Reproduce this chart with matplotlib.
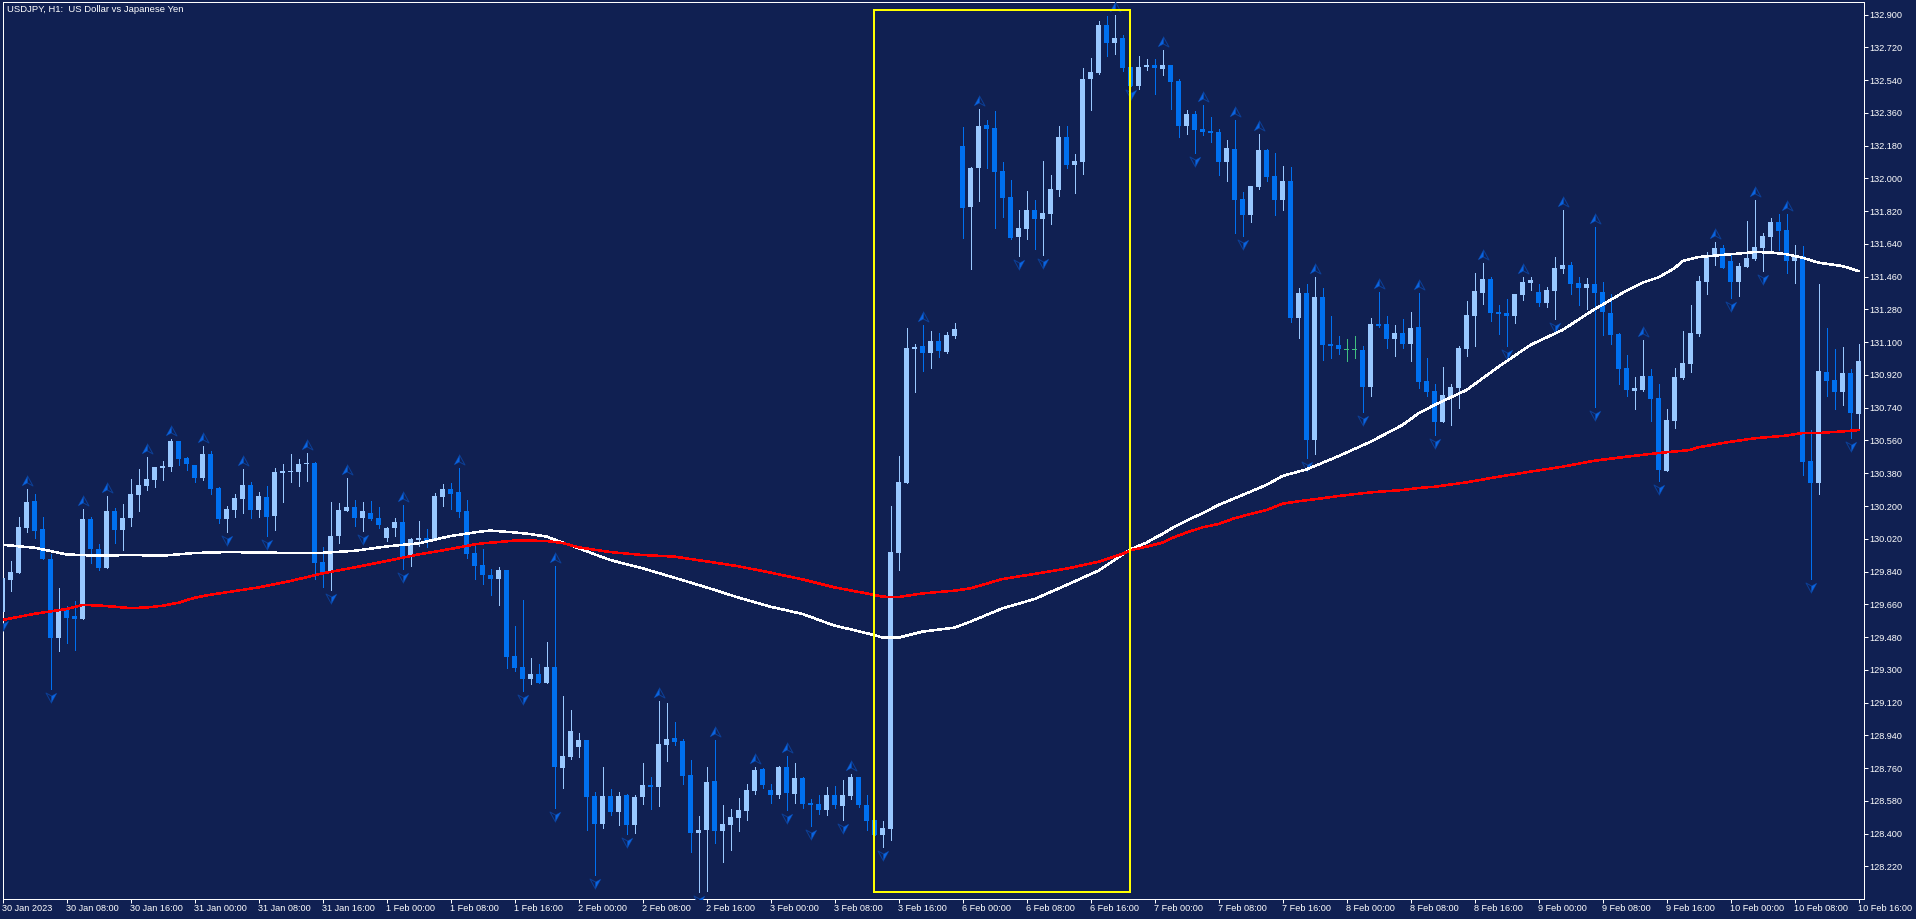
import numpy as np
import matplotlib
matplotlib.use("Agg")
import matplotlib.pyplot as plt
from matplotlib.path import Path
from matplotlib.patches import Rectangle

plt.rcParams['font.family'] = ['Liberation Sans', 'DejaVu Sans']

# hourly candles, USDJPY H1
opens = [
    129.617,129.793,129.832,130.079,130.227,130.073,129.909,129.475,129.634,129.596,
    129.579,130.128,129.964,129.859,130.172,130.068,130.134,130.260,130.310,130.343,
    130.408,130.414,130.557,130.463,130.425,130.354,130.485,130.299,130.128,130.178,
    130.238,130.315,130.178,130.249,130.145,130.381,130.387,130.387,130.430,130.436,
    129.892,129.837,130.035,130.172,130.194,130.134,130.161,130.134,130.024,130.079,
    130.112,129.920,130.013,130.024,130.013,130.249,130.293,130.277,130.172,129.942,
    129.876,129.821,129.799,129.848,129.376,129.316,129.250,129.277,129.228,129.316,
    128.761,128.821,128.876,128.915,128.607,128.453,128.607,128.519,128.613,128.448,
    128.602,128.667,128.657,128.887,128.926,128.909,128.722,128.404,128.420,128.689,
    128.415,128.448,128.486,128.525,128.635,128.755,128.640,128.613,128.766,128.618,
    128.706,128.569,128.563,128.530,128.613,128.552,128.607,128.711,128.558,128.475,
    128.393,128.426,129.942,130.326,131.062,131.079,131.040,131.106,131.046,131.134,
    132.178,131.842,132.057,132.293,132.276,132.040,131.897,131.678,131.722,131.826,
    131.777,131.804,131.936,132.227,132.073,132.090,132.545,132.578,132.842,132.743,
    132.771,132.611,132.507,132.611,132.622,132.600,132.622,132.534,132.287,132.353,
    132.270,132.260,132.254,132.090,132.161,131.886,131.798,131.952,132.155,132.012,
    131.881,131.985,131.232,131.370,130.562,131.348,131.090,131.084,131.055,131.055,
    131.057,130.853,131.200,131.200,131.117,131.150,131.090,131.183,130.887,130.832,
    130.661,130.799,130.848,131.062,131.244,131.370,131.447,131.265,131.260,131.244,
    131.359,131.425,131.375,131.315,131.381,131.502,131.524,131.425,131.398,131.420,
    131.375,131.260,131.145,130.958,130.832,130.837,130.914,130.793,130.392,130.667,
    130.903,130.980,131.145,131.430,131.568,131.617,131.546,131.430,131.513,131.557,
    131.617,131.678,131.760,131.716,131.546,131.573,130.447,130.326,130.936,130.892,
    130.826,130.931,130.705]
highs = [
    129.830,129.896,130.139,130.293,130.266,130.139,129.936,129.749,129.650,129.678,
    130.183,130.139,129.991,130.255,130.189,130.211,130.348,130.403,130.469,130.414,
    130.447,130.568,130.557,130.469,130.425,130.529,130.502,130.304,130.200,130.266,
    130.403,130.332,130.277,130.310,130.408,130.430,130.485,130.458,130.491,130.441,
    129.975,130.222,130.216,130.354,130.233,130.222,130.227,130.194,130.084,130.134,
    130.205,130.024,130.117,130.073,130.271,130.321,130.326,130.408,130.233,129.980,
    129.964,129.854,129.865,129.848,129.541,129.684,129.365,129.332,129.453,129.870,
    129.156,129.079,128.953,128.915,128.629,128.766,128.646,128.629,128.618,128.613,
    128.788,128.711,129.129,129.118,129.014,128.920,128.805,128.497,128.766,128.915,
    128.558,128.536,128.596,128.673,128.766,128.761,128.673,128.772,128.827,128.788,
    128.711,128.591,128.613,128.657,128.662,128.695,128.728,128.711,128.613,128.475,
    128.470,130.200,130.475,131.178,131.090,131.194,131.161,131.150,131.156,131.205,
    132.282,132.062,132.381,132.320,132.370,132.090,131.991,131.826,131.930,131.881,
    132.095,132.018,132.287,132.287,132.134,132.606,132.661,132.864,132.891,132.897,
    132.787,132.611,132.672,132.655,132.655,132.705,132.622,132.546,132.375,132.370,
    132.403,132.337,132.270,132.210,132.320,131.925,131.958,132.243,132.161,132.139,
    132.068,132.062,131.397,131.419,131.458,131.397,131.243,131.134,131.117,131.134,
    131.079,131.232,131.375,131.243,131.194,131.227,131.265,131.370,131.013,130.870,
    130.964,130.870,131.079,131.326,131.480,131.535,131.458,131.304,131.337,131.364,
    131.458,131.458,131.420,131.403,131.568,131.826,131.540,131.458,131.452,131.732,
    131.430,131.364,131.150,131.029,130.908,131.112,130.953,130.870,130.733,130.958,
    131.161,131.304,131.463,131.595,131.650,131.634,131.579,131.535,131.765,131.881,
    131.699,131.782,131.804,131.804,131.634,131.628,130.617,131.420,131.178,131.062,
    131.073,130.953,131.090]
lows = [
    129.592,129.733,129.832,130.057,130.024,129.909,129.195,129.403,129.447,129.409,
    129.579,129.887,129.848,129.859,129.997,129.958,130.090,130.172,130.288,130.304,
    130.343,130.392,130.425,130.397,130.332,130.343,130.266,130.106,130.057,130.139,
    130.161,130.134,130.139,130.035,130.068,130.222,130.332,130.310,130.337,129.799,
    129.755,129.738,129.997,130.172,130.090,130.062,130.123,130.079,130.007,130.035,
    129.854,129.870,129.980,129.975,130.013,130.200,130.183,130.139,129.914,129.799,
    129.772,129.711,129.656,129.310,129.294,129.184,129.222,129.228,129.228,128.541,
    128.651,128.810,128.821,128.420,128.173,128.431,128.503,128.448,128.398,128.404,
    128.563,128.536,128.552,128.799,128.887,128.673,128.299,128.080,128.085,128.349,
    128.245,128.310,128.415,128.475,128.618,128.651,128.569,128.596,128.530,128.569,
    128.541,128.442,128.508,128.503,128.541,128.475,128.591,128.547,128.420,128.393,
    128.327,128.365,129.848,130.326,130.826,130.942,130.958,131.018,131.040,131.123,
    131.672,131.502,131.875,132.057,131.727,131.788,131.667,131.573,131.667,131.612,
    131.579,131.749,131.903,132.057,131.919,132.024,132.375,132.573,132.672,132.683,
    132.589,132.507,132.490,132.595,132.463,132.567,132.381,132.227,132.243,132.139,
    132.238,132.199,132.018,131.985,131.700,131.683,131.760,131.941,131.985,131.798,
    131.826,131.211,131.123,130.463,130.485,131.002,131.013,131.035,130.996,131.013,
    130.716,130.804,131.183,131.068,131.024,131.068,130.996,130.848,130.804,130.590,
    130.661,130.645,130.738,131.024,131.079,131.310,131.216,131.145,131.079,131.205,
    131.332,131.386,131.299,131.293,131.227,131.480,131.364,131.304,131.282,130.744,
    131.139,131.090,130.870,130.804,130.733,130.832,130.667,130.337,130.392,130.628,
    130.898,130.936,131.134,131.364,131.524,131.507,131.343,131.354,131.513,131.551,
    131.491,131.595,131.606,131.480,131.425,130.370,129.799,130.266,130.804,130.733,
    130.755,130.574,130.617]
closes = [
    129.804,129.837,130.084,130.222,130.062,129.909,129.475,129.634,129.585,129.579,
    130.128,129.964,129.859,130.172,130.068,130.134,130.266,130.315,130.348,130.414,
    130.419,130.557,130.458,130.430,130.354,130.485,130.293,130.128,130.183,130.244,
    130.315,130.178,130.255,130.139,130.387,130.392,130.392,130.430,130.436,129.887,
    129.837,130.035,130.178,130.194,130.134,130.172,130.128,130.095,130.079,130.112,
    129.920,130.018,130.024,130.007,130.255,130.293,130.266,130.167,129.936,129.870,
    129.821,129.799,129.848,129.371,129.310,129.250,129.277,129.228,129.316,128.766,
    128.827,128.964,128.915,128.602,128.453,128.607,128.519,128.607,128.448,128.602,
    128.667,128.657,128.893,128.920,128.904,128.717,128.404,128.420,128.684,128.415,
    128.453,128.492,128.530,128.640,128.750,128.667,128.613,128.766,128.624,128.706,
    128.563,128.558,128.530,128.613,128.558,128.613,128.711,128.558,128.470,128.393,
    128.431,129.947,130.332,131.068,131.073,131.040,131.106,131.051,131.139,131.172,
    131.837,132.057,132.287,132.271,132.035,131.892,131.672,131.727,131.826,131.777,
    131.809,131.941,132.227,132.073,132.095,132.545,132.584,132.842,132.743,132.771,
    132.606,132.507,132.611,132.622,132.606,132.622,132.529,132.287,132.353,132.265,
    132.254,132.249,132.090,132.166,131.881,131.798,131.958,132.155,132.007,131.881,
    131.985,131.232,131.370,130.562,131.348,131.084,131.079,131.062,131.055,131.055,
    130.853,131.200,131.189,131.117,131.150,131.090,131.178,130.881,130.826,130.661,
    130.810,130.854,131.068,131.249,131.381,131.447,131.260,131.255,131.244,131.364,
    131.430,131.441,131.315,131.386,131.507,131.524,131.420,131.398,131.420,131.370,
    131.265,131.139,130.953,130.837,130.848,130.914,130.788,130.398,130.672,130.908,
    130.985,131.150,131.436,131.568,131.617,131.507,131.430,131.518,131.562,131.623,
    131.683,131.760,131.710,131.546,131.573,130.442,130.326,130.941,130.887,130.826,
    130.931,130.711,130.996]

# moving averages, read at these bars
white_bars = [0,4,8,12,16,20,24,28,32,36,40,44,48,52,56,59,60,61,64,66,68,70,72,74,76,80,84,88,92,96,
              100,104,106,109,110,112,115,119,121,125,129,133,137,141,143,144,145,146,148,150,152,154,
              156,158,160,162,163,167,171,175,177,179,183,187,191,195,199,203,205,207,209,210,212,216,
              219,221,223,225,227,230,232]
white_ma = [129.987,129.971,129.934,129.927,129.931,129.927,129.942,129.947,129.945,129.942,129.943,129.954,
            129.978,129.995,130.035,130.055,130.061,130.065,130.055,130.046,130.032,129.999,129.969,129.935,
            129.903,129.858,129.806,129.753,129.697,129.647,129.607,129.543,129.523,129.491,129.477,129.477,
            129.510,129.532,129.565,129.638,129.689,129.766,129.845,129.962,129.999,130.024,130.046,130.074,
            130.120,130.160,130.206,130.242,130.279,130.316,130.365,130.389,130.401,130.474,130.553,130.645,
            130.709,130.755,130.837,130.965,131.085,131.167,131.281,131.383,131.427,131.456,131.506,131.546,
            131.568,131.583,131.595,131.593,131.583,131.564,131.537,131.518,131.491]
red_bars = [0,4,8,10,12,14,16,18,20,22,24,26,28,32,36,40,44,48,52,56,59,60,62,64,66,68,70,72,74,76,80,84,
            88,92,96,100,104,108,110,112,115,119,121,125,129,133,137,140,141,143,145,146,148,150,152,154,
            156,158,160,162,164,167,171,175,177,179,183,187,191,195,199,203,207,211,212,216,219,223,225,
            227,230,232]
red_ma = [129.574,129.608,129.634,129.656,129.654,129.647,129.639,129.643,129.652,129.669,129.696,129.713,
          129.726,129.753,129.788,129.830,129.863,129.898,129.934,129.964,129.989,129.995,130.002,130.010,
          130.010,130.008,129.997,129.973,129.960,129.947,129.931,129.922,129.896,129.869,129.834,129.797,
          129.753,129.720,129.702,129.700,129.720,129.735,129.748,129.799,129.827,129.856,129.894,129.937,
          129.957,129.977,129.999,130.021,130.054,130.083,130.101,130.133,130.156,130.178,130.213,130.226,
          130.237,130.255,130.275,130.288,130.299,130.306,130.330,130.361,130.389,130.416,130.449,130.471,
          130.491,130.508,130.523,130.553,130.572,130.587,130.601,130.601,130.610,130.617]

# fractal arrows
up_bars = [3,10,13,18,21,25,30,38,43,50,57,69,82,89,94,98,106,115,122,139,145,150,154,157,164,172,177,
           185,190,195,199,205,214,219,223]
down_bars = [0,6,28,33,41,45,50,65,69,74,78,87,98,101,105,110,127,130,141,149,155,163,170,179,188,194,
             199,207,216,220,226,231]

price_ticks = [128.22,128.40,128.58,128.76,128.94,129.12,129.30,129.48,129.66,129.84,130.02,130.20,130.38,
               130.56,130.74,130.92,131.10,131.28,131.46,131.64,131.82,132.00,132.18,132.36,132.54,132.72,132.90]
time_labels = ['30 Jan 2023','30 Jan 08:00','30 Jan 16:00','31 Jan 00:00','31 Jan 08:00','31 Jan 16:00',
               '1 Feb 00:00','1 Feb 08:00','1 Feb 16:00','2 Feb 00:00','2 Feb 08:00','2 Feb 16:00',
               '3 Feb 00:00','3 Feb 08:00','3 Feb 16:00','6 Feb 00:00','6 Feb 08:00','6 Feb 16:00',
               '7 Feb 00:00','7 Feb 08:00','7 Feb 16:00','8 Feb 00:00','8 Feb 08:00','8 Feb 16:00',
               '9 Feb 00:00','9 Feb 08:00','9 Feb 16:00','10 Feb 00:00','10 Feb 08:00','10 Feb 16:00']

BG = '#102052'
BULL = '#99C8FF'
BEAR = '#0070F0'
DOJI = '#40C080'
ARROW = '#0A64E0'
ARROW_DIM = '#0C3F96'
PX = 0.72  # one pixel in points at dpi 100

fig = plt.figure(figsize=(19.16, 9.19), dpi=100, facecolor=BG)
ax = fig.add_axes([2.5 / 1916, 20.5 / 919, 1861 / 1916, 896 / 919], facecolor=BG)

o = np.array(opens)
h = np.array(highs)
l = np.array(lows)
c = np.array(closes)
idx = np.arange(len(o))
colors = [BULL if b > a else BEAR if b < a else DOJI for a, b in zip(o, c)]

ax.vlines(idx, l, h, colors=colors, linewidth=PX, antialiased=False, zorder=2)
# a flat candle still shows as one pixel
ax.bar(idx, np.maximum(np.abs(c - o), 0.0055), bottom=np.minimum(o, c), width=0.625,
       color=colors, linewidth=0, antialiased=False, zorder=3)

# arrow markers, sizes in pixels away from the high / low
left = Path([(0, 13.5), (-5.5, 3.5), (0, 6.5), (0, 13.5)], closed=True)
right = Path([(0, 13.5), (5.5, 3.5), (0, 6.5), (0, 13.5)], closed=True)
flip = lambda p: Path(-p.vertices, p.codes)
ms = 27 * PX
up_x = np.array(up_bars)
down_x = np.array(down_bars)
ax.plot(up_x, h[up_x], ls='none', marker=right, ms=ms, mfc=BG, mec=ARROW_DIM, mew=PX, zorder=4)
ax.plot(up_x, h[up_x], ls='none', marker=left, ms=ms, mfc=ARROW, mec=ARROW_DIM, mew=0.3, zorder=4)
ax.plot(down_x, l[down_x], ls='none', marker=flip(right), ms=ms, mfc=BG, mec=ARROW_DIM, mew=PX, zorder=4)
ax.plot(down_x, l[down_x], ls='none', marker=flip(left), ms=ms, mfc=ARROW, mec=ARROW_DIM, mew=0.3, zorder=4)

ax.plot(white_bars, white_ma, color='white', lw=1.5 * PX, antialiased=False, zorder=5)
ax.plot(red_bars, red_ma, color='#FF0000', lw=1.5 * PX, antialiased=False, zorder=6)

ax.add_patch(Rectangle((108.9, 128.081), 32, 4.843, fill=False, edgecolor='#FFFF00', linewidth=2 * PX,
                       snap=True, zorder=7))

ax.set_xlim(0, 232.625)
ax.set_ylim(128.044, 132.966)

for s in ax.spines.values():
    s.set_color('white')
    s.set_linewidth(PX)

ax.yaxis.tick_right()
ax.set_yticks(price_ticks)
ax.set_yticklabels([f'{p:.3f}' for p in price_ticks])
ax.set_xticks(idx[::8])
ax.set_xticklabels(time_labels, ha='left')
ax.tick_params(axis='both', colors='white', length=4 * PX, width=PX, labelsize=6.6, pad=1.5)
ax.tick_params(axis='x', pad=0.8)

fig.text(7 / 1916, 1 - 10 / 919, 'USDJPY, H1:  US Dollar vs Japanese Yen', color='white',
         fontsize=6.8, va='center', ha='left')

fig.savefig('out.png', dpi=100, facecolor=BG)
